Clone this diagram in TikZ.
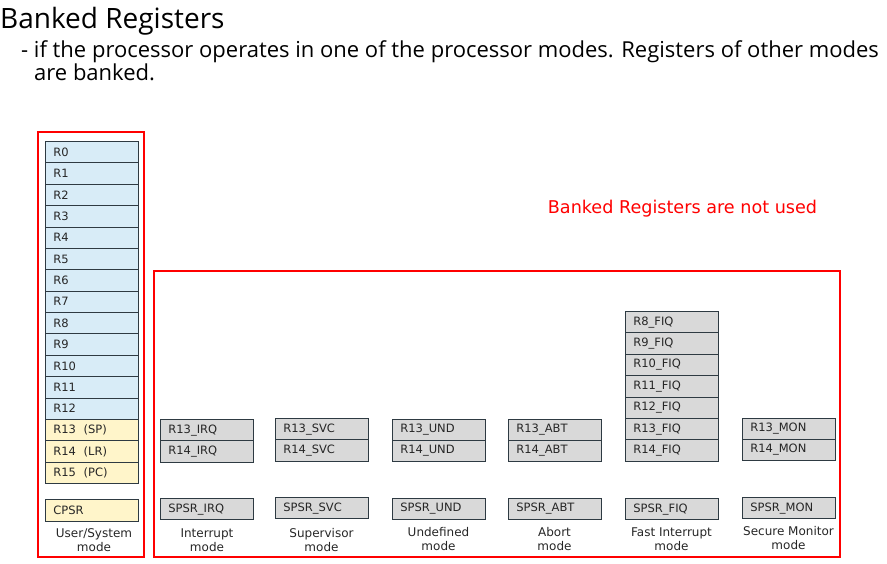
\documentclass[tikz,border=0pt]{standalone}
\usepackage{fontspec}
\setmainfont{DejaVu Sans}
\newfontfamily\titlefont{Open Sans}

\definecolor{regblue}{HTML}{D8ECF7}
\definecolor{regyellow}{HTML}{FFF5CA}
\definecolor{reggray}{HTML}{D9D9D9}
\definecolor{regline}{HTML}{2E3A42}

\tikzset{
	reg/.style={draw=regline, line width=0.8pt, anchor=north west, minimum height=21.4pt,
		inner xsep=8pt, inner ysep=0pt, text width=77pt, align=left, text=black!85,
		font=\fontsize{11.5}{13}\selectfont},
	usr/.style={reg, fill=regblue},
	pcs/.style={reg, fill=regyellow},
	bnk/.style={reg, fill=reggray},
	modelabel/.style={align=center, text=black!85, font=\fontsize{12}{14.5}\selectfont},
	redbox/.style={draw=red, line width=1.6pt},
}

\begin{document}
\begin{tikzpicture}[x=1pt, y=-1pt]
	\useasboundingbox (0,0) rectangle (887,563);

	% title
	\node[anchor=base west, inner sep=0pt, font=\titlefont\fontsize{28}{30}\selectfont] (title) at (0,28) {Banked Registers};
	\node[anchor=base west, inner sep=0pt, font=\titlefont\fontsize{22}{24}\selectfont] (sub1) at (21,57) {- if the processor operates in one of the processor modes. Registers of other modes};
	\node[anchor=base west, inner sep=0pt, font=\titlefont\fontsize{22}{24}\selectfont] (sub2) at (34,80) {are banked.};

	% user/system mode
	\foreach \i in {0,...,12}
		\node[usr] (r\i) at (45,141+\i*21.375) {R\i};
	\node[pcs] (sp) at (45,418.9) {R13\ \ (SP)};
	\node[pcs] (lr) at (45,440.3) {R14\ \ (LR)};
	\node[pcs] (pc) at (45,461.6) {R15\ \ (PC)};
	\node[pcs, minimum height=22pt] (cpsr) at (45,499) {CPSR};
	\node[modelabel] (usrmode) at (94,540) {User/System\\mode};

	% interrupt mode
	\node[bnk] (irqsp) at (160,419) {R13\_IRQ};
	\node[bnk] (irqlr) at (160,440.4) {R14\_IRQ};
	\node[bnk] (irqspsr) at (160,498) {SPSR\_IRQ};
	\node[modelabel] (irqmode) at (207,540) {Interrupt\\mode};

	% supervisor mode
	\node[bnk] (svcsp) at (275,418) {R13\_SVC};
	\node[bnk] (svclr) at (275,439.4) {R14\_SVC};
	\node[bnk] (svcspsr) at (275,497) {SPSR\_SVC};
	\node[modelabel] (svcmode) at (321.5,540) {Supervisor\\mode};

	% undefined mode
	\node[bnk] (undsp) at (392,418.5) {R13\_UND};
	\node[bnk] (undlr) at (392,439.9) {R14\_UND};
	\node[bnk] (undspsr) at (392,497.5) {SPSR\_UND};
	\node[modelabel] (undmode) at (438.5,539) {Undefined\\mode};

	% abort mode
	\node[bnk] (abtsp) at (508,418.5) {R13\_ABT};
	\node[bnk] (abtlr) at (508,439.9) {R14\_ABT};
	\node[bnk] (abtspsr) at (508,497.5) {SPSR\_ABT};
	\node[modelabel] (abtmode) at (554.5,539) {Abort\\mode};

	% fast interrupt mode
	\foreach \i in {8,...,14}
		\node[bnk] (fiq\i) at (625,311+\i*21.4-171.2) {R\i\_FIQ};
	\node[bnk] (fiqspsr) at (625,498) {SPSR\_FIQ};
	\node[modelabel] (fiqmode) at (671.5,539) {Fast Interrupt\\mode};

	% secure monitor mode
	\node[bnk] (monsp) at (742,417.5) {R13\_MON};
	\node[bnk] (monlr) at (742,438.9) {R14\_MON};
	\node[bnk] (monspsr) at (742,497) {SPSR\_MON};
	\node[modelabel] (monmode) at (788.5,538) {Secure Monitor\\mode};

	% red frames
	\draw[redbox] (38,132) rectangle (144,557);
	\draw[redbox] (154,271) rectangle (840,557);
	\node[text=red, font=\fontsize{17.6}{20}\selectfont] (note) at (682.5,209) {Banked Registers are not used};
\end{tikzpicture}
\end{document}
